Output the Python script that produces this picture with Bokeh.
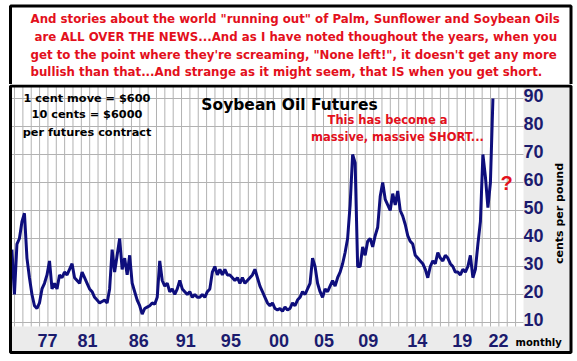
import numpy as np
from bokeh.plotting import figure
from bokeh.layouts import column
from bokeh.models import Range1d
from bokeh.core.properties import value
from bokeh.embed import file_html
from bokeh.resources import INLINE

# ---------------- data ----------------
start_year = 1974.25          # first quarterly reading
step_years = 0.25             # quarterly readings
prices = [
    36, 20, 38,                 # 1974
    40, 46, 49, 33,             # 1975
    26, 20, 16, 15,             # 1976
    17, 22, 24, 27,             # 1977
    32, 22, 24, 22,             # 1978
    27, 26, 28, 27,             # 1979
    29, 31, 26, 25,             # 1980
    24, 28, 26, 24,             # 1981
    22, 21, 19, 18,             # 1982
    17, 17.5, 18, 17,           # 1983
    22, 36, 28, 34,             # 1984
    40, 29, 33, 27,             # 1985
    34, 24, 21, 18,             # 1986
    16, 13, 15, 15.5,           # 1987
    16, 17, 16.5, 19,           # 1988
    32, 25, 23, 24,             # 1989
    21, 22, 20, 22,             # 1990
    25, 22, 21, 20,             # 1991
    21, 19, 20, 19,             # 1992
    19, 20, 19, 21,             # 1993
    22, 28, 30, 27,             # 1994
    29, 27, 29, 27,             # 1995
    27, 26, 25, 26,             # 1996
    24, 26, 24, 25,             # 1997
    26, 27, 29, 26,             # 1998
    23, 21, 19, 17,             # 1999
    16, 17, 15, 14.5,           # 2000
    15, 14, 15.5, 14.5,         # 2001
    15, 17, 16, 18,             # 2002
    19, 21, 20, 22,             # 2003
    24, 33, 30, 24,             # 2004
    21, 19, 22, 21,             # 2005
    23, 25, 23, 26,             # 2006
    28, 31, 35, 40,             # 2007
    52, 70, 67, 30,             # 2008
    30, 37, 34, 39,             # 2009
    40, 37, 41, 44,             # 2010
    55, 60, 54, 52,             # 2011
    50, 56, 52, 57,             # 2012
    50, 48, 45, 41,             # 2013
    39, 38, 34, 33,             # 2014
    32, 31, 29, 26,             # 2015
    30, 32, 31, 35,             # 2016
    33, 32, 34, 33,             # 2017
    31, 30, 28, 28,             # 2018
    27, 29, 28, 30,             # 2019
    34, 26, 29, 38,             # 2020
    46, 70, 62, 51,             # 2021
    60, 90,                     # 2022
]
years = start_year + step_years * np.arange(len(prices))

x_tick_positions = [1977.8, 1981.8, 1986.9, 1991.6, 1996.1, 2000.9,
                    2005.4, 2009.8, 2014.7, 2019.2, 2022.8]
x_tick_labels = ["77", "81", "86", "91", "95", "00", "05", "09", "14", "19", "22"]
y_ticks = [10, 20, 30, 40, 50, 60, 70, 80, 90]
y_tick_labels = [str(v) for v in y_ticks]

headline_lines = [
    'And stories about the world "running out" of Palm, Sunflower and Soybean Oils',
    'are ALL OVER THE NEWS...And as I have noted thoughout the years, when you',
    'get to the point where they\'re screaming, "None left!", it doesn\'t get any more',
    'bullish than that...And strange as it might seem, that IS when you get short.',
]
note_lines = ["1 cent move = $600", "10 cents = $6000", "per futures contract"]
chart_title = "Soybean Oil Futures"
callout_lines = ["This has become a", "massive, massive SHORT..."]
y_label = "cents per pound"
x_label = "monthly"

# ---------------- styles / layout ----------------
RED = "#e3101c"
NAVY_LINE = "#0e0e7c"
NAVY_TEXT = "#1b1b6e"
BAND = "#ebebeb"
GRID = "#b2b2b2"
W = 576
TOP_H = 84
CH_H = 276
X0, X1 = 1973.11, 2030.59      # chart x range (years), whole canvas
Y0, Y1 = -3.57, 95.0           # chart y range (cents), whole canvas


def fx(px):
    """page pixel x -> chart data x"""
    return X0 + px * (X1 - X0) / W


def fy(py):
    """page pixel y -> chart data y"""
    return Y1 - (py - TOP_H) * (Y1 - Y0) / CH_H


# ---------------- top text box ----------------
top = figure(width=W, height=TOP_H, x_range=Range1d(0, W), y_range=Range1d(TOP_H, 0),
             output_backend="svg", toolbar_location=None, min_border=0,
             x_axis_location=None, y_axis_location=None)
top.grid.visible = False
top.outline_line_color = None
top.background_fill_color = "white"
top.border_fill_color = "white"
top.quad(left=[10], right=[570.5], top=[5.5], bottom=[120],
         fill_color=None, line_color="black", line_width=3)
top.text(x=[30, 34, 30, 30], y=[18, 36, 54, 71], text=headline_lines,
         text_font=value("DejaVu Sans"), text_font_style="bold",
         text_font_size="11.8px", text_color=RED,
         text_align="left", text_baseline="middle")

# ---------------- chart ----------------
p = figure(width=W, height=CH_H, x_range=Range1d(X0, X1), y_range=Range1d(Y0, Y1),
           output_backend="svg", toolbar_location=None, min_border=0,
           x_axis_location=None, y_axis_location=None)
p.grid.visible = False
p.outline_line_color = None
p.background_fill_color = "white"
p.border_fill_color = "white"

# grey box (axis bands) and white plotting area
p.quad(left=[fx(10)], right=[fx(570.5)], top=[fy(84)], bottom=[fy(352)],
       fill_color=BAND, line_color=None)
plot_l, plot_r, plot_t, plot_b = fx(11.5), fx(523), fy(86), fy(326)
p.quad(left=[plot_l], right=[plot_r], top=[plot_t], bottom=[plot_b],
       fill_color="white", line_color=None)

# grid
grid_x = np.arange(1974.51, 2025.3, 10 / 12)
p.segment(x0=grid_x, y0=plot_b, x1=grid_x, y1=plot_t, line_color=GRID, line_width=1)
p.segment(x0=plot_l, y0=y_ticks, x1=plot_r, y1=y_ticks, line_color=GRID, line_width=1)

# price line
p.line(years, prices, line_color=NAVY_LINE, line_width=3)

# black frame
p.quad(left=[fx(10)], right=[fx(570.5)], top=[fy(85.5)], bottom=[fy(352)],
       fill_color=None, line_color="black", line_width=3)

# tick labels
p.text(x=x_tick_positions, y=fy(340), text=x_tick_labels,
       text_font=value("Liberation Sans"), text_font_style="bold",
       text_font_size="18px", text_color=NAVY_TEXT,
       text_align="center", text_baseline="middle")
p.text(x=fx(523), y=y_ticks, text=y_tick_labels, y_offset=-3,
       text_font=value("Liberation Sans"), text_font_style="bold",
       text_font_size="18px", text_color=NAVY_TEXT,
       text_align="left", text_baseline="middle")


def add_text(px, py, text, size, color="black", align="center", angle=0, font="DejaVu Sans"):
    p.text(x=[fx(px)], y=[fy(py)], text=[text], text_font=value(font),
           text_font_style="bold", text_font_size=size, text_color=color,
           text_align=align, text_baseline="middle", angle=angle, angle_units="deg")


for py, t in zip([98, 114, 132], note_lines):
    add_text(86.5, py, t, "11.3px")
add_text(289, 104, chart_title, "15.5px")
add_text(387, 119, callout_lines[0], "11.5px", RED)
add_text(397, 136, callout_lines[1], "11.5px", RED)
add_text(506, 182, "?", "20px", RED, font="Liberation Sans")
add_text(515, 342, x_label, "10px", align="left")
add_text(559, 213, y_label, "11px", angle=90)

layout = column(top, p)
open("out.html", "w").write(file_html(layout, INLINE))
